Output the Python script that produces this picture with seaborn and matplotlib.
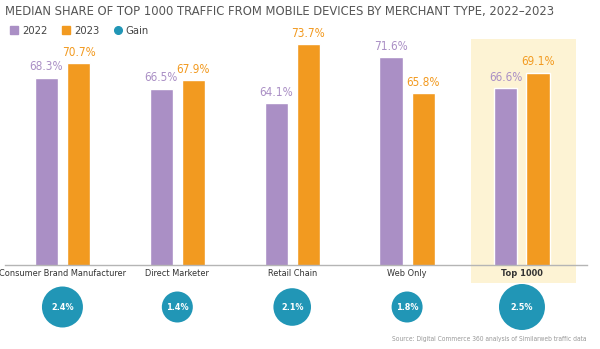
import matplotlib
matplotlib.use("Agg")
import matplotlib.pyplot as plt
import seaborn as sns
import pandas as pd
from matplotlib.lines import Line2D

# ---- data ----
categories = ["Consumer Brand Manufacturer", "Direct Marketer", "Retail Chain", "Web Only", "Top 1000"]
share_2022 = [68.3, 66.5, 64.1, 71.6, 66.6]
share_2023 = [70.7, 67.9, 73.7, 65.8, 69.1]
gain = [2.4, 1.4, 2.1, 1.8, 2.5]
years = ["2022", "2023"]

title = "MEDIAN SHARE OF TOP 1000 TRAFFIC FROM MOBILE DEVICES BY MERCHANT TYPE, 2022\u20132023"
source = "Source: Digital Commerce 360 analysis of Similarweb traffic data"

# ---- style ----
purple = "#AA8FC5"
orange = "#F29A20"
teal = "#2196B6"
highlight = "#FDF3D4"
circle_diam_px = [41, 31, 37.6, 31, 46]

sns.set_theme(style="white")
plt.rcParams['font.family'] = ['DejaVu Sans']
plt.rcParams['font.stretch'] = 'condensed'

W, H = 600, 349
fig = plt.figure(figsize=(W / 100, H / 100), dpi=100)

def fy(py):
    return 1 - py / H

ax = fig.add_axes([5 / W, fy(265), 582 / W, 230 / H])
ax.patch.set_alpha(0)

df = pd.DataFrame({
    "category": categories * 2,
    "year": [years[0]] * len(categories) + [years[1]] * len(categories),
    "share": share_2022 + share_2023,
})
sns.barplot(data=df, x="category", y="share", hue="year",
            palette={years[0]: purple, years[1]: orange}, saturation=1,
            width=0.56, gap=0.28, errorbar=None, legend=False, ax=ax, zorder=2)

ax.set_ylim(37.9, 75.2)
ax.set_xlim(-0.5, 4.566)
ax.axvspan(3.555, 4.469, ymin=-0.078, ymax=0.983, color=highlight, zorder=0, clip_on=False, lw=0)

for cont, vals, col in zip(ax.containers, [share_2022, share_2023], [purple, orange]):
    ax.bar_label(cont, labels=[f"{v}%" for v in vals], padding=3, color=col, fontsize=8.5)

for s in ["top", "left", "right"]:
    ax.spines[s].set_visible(False)
ax.spines["bottom"].set_color("#B5B5B5")
ax.spines["bottom"].set_linewidth(1)
ax.set_yticks([])
ax.set_xlabel("")
ax.set_ylabel("")
ax.tick_params(axis="x", length=0, pad=3, labelsize=6.6, labelcolor="#333333")
for lbl in ax.get_xticklabels():
    if lbl.get_text() == "Top 1000":
        lbl.set_fontweight("bold")

# ---- gain circles ----
ax2 = fig.add_axes([5 / W, fy(330), 582 / W, 46 / H])
ax2.set_xlim(ax.get_xlim())
ax2.set_ylim(-1, 1)
ax2.axis("off")
xpos = list(range(len(categories)))
gdf = pd.DataFrame({"x": xpos, "y": [0] * len(categories), "gain": gain})
size_map = {g: (d * 0.72) ** 2 for g, d in zip(gain, circle_diam_px)}
sns.scatterplot(data=gdf, x="x", y="y", size="gain", sizes=size_map, color=teal,
                edgecolor="none", legend=False, ax=ax2, clip_on=False)
for x, g in zip(xpos, gain):
    ax2.text(x, 0, f"{g}%", ha="center", va="center", color="white",
             fontsize=6.5, fontweight="bold")
ax2.set_xlabel("")
ax2.set_ylabel("")

# ---- title / legend / source ----
fig.text(5 / W, fy(12), title, ha="left", va="center", fontsize=9.3, color="#555555")
handles = [
    Line2D([], [], marker="s", color=purple, linestyle="", markersize=5.5),
    Line2D([], [], marker="s", color=orange, linestyle="", markersize=5.5),
    Line2D([], [], marker="o", color=teal, linestyle="", markersize=5.5),
]
fig.legend(handles, years + ["Gain"], loc="center left", bbox_to_anchor=(4 / W, fy(31)),
           ncol=3, frameon=False, handletextpad=0.2, columnspacing=1.2,
           fontsize=8, labelcolor="#444444", borderaxespad=0, handlelength=1.0)
fig.text(587 / W, fy(339), source, ha="right", va="center", fontsize=4.8, color="#999999")

fig.savefig("out.png", dpi=100)
